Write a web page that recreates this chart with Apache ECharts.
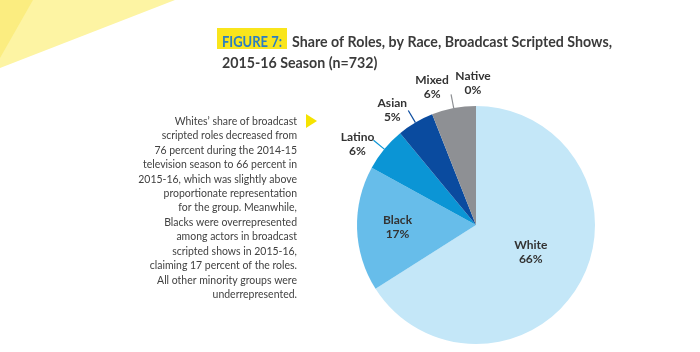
<!DOCTYPE html>
<html>
<head>
<meta charset="utf-8">
<script src="https://cdn.jsdelivr.net/npm/echarts@6/dist/echarts.min.js"></script>
<style>
html,body{margin:0;padding:0;background:#fff;}
#chart{width:700px;height:352px;}
</style>
</head>
<body>
<div id="chart"></div>
<script>
// ---- data ----
const categories = ['White', 'Black', 'Latino', 'Asian', 'Mixed', 'Native'];
const shares = [66, 17, 6, 5, 6, 0];
const sliceColors = ['#c4e7f8', '#67bdea', '#0b95d5', '#0a4b9f', '#8e9094', '#8e9094'];
const figureLabel = 'FIGURE 7:';
const titleLines = ['Share of Roles, by Race, Broadcast Scripted Shows,', '2015-16 Season (n=732)'];
const bodyLines = [
  'Whites\u2019 share of broadcast',
  'scripted roles decreased from',
  '76 percent during the 2014-15',
  'television season to 66 percent in',
  '2015-16, which was slightly above',
  'proportionate representation',
  'for the group. Meanwhile,',
  'Blacks were overrepresented',
  'among actors in broadcast',
  'scripted shows in 2015-16,',
  'claiming 17 percent of the roles.',
  'All other minority groups were',
  'underrepresented.'
];
const insideLabels = ['White', 'Black'];

// ---- helpers ----
const FONT = 'Lato';
const cv = document.createElement('canvas').getContext('2d');
function measure(text, size, weight) {
  cv.font = (weight || 'normal') + ' ' + size + 'px ' + FONT;
  return cv.measureText(text).width;
}

const titleSize = 15.5;
const titleScale = 320 / measure(titleLines[0], titleSize, 'bold');
const figScale = 60 / measure(figureLabel, titleSize, 'bold');
const bodySize = 11.5;
const bodyScale = 154 / measure(bodyLines[3], bodySize, 'normal');

// label nudges (style only)
const labelShift = {
  White: {dy: -3},
  Black: {dx: -16},
  Latino: {dx: 5, dy: 4},
  Asian: {dx: 5, dy: 0},
  Mixed: {dx: 2, dy: -7},
  Native: {dx: 0, dy: -9, align: 'center'}
};

const graphics = [];
// decorative yellow shapes
graphics.push({type: 'polygon', shape: {points: [[0,0],[175,0],[0,68]]}, style: {fill: '#fdf4a3'}, silent: true});
graphics.push({type: 'polygon', shape: {points: [[0,0],[33,0],[0,58]]}, style: {fill: '#fbed80'}, silent: true});
// title
graphics.push({type: 'rect', shape: {x: 217, y: 28, width: 70, height: 21}, style: {fill: '#f9e51c'}, silent: true});
graphics.push({type: 'text', x: 222, y: 42, scaleX: figScale, style: {text: figureLabel, fill: '#2b7ec2', font: 'bold ' + titleSize + 'px ' + FONT, textAlign: 'left', textVerticalAlign: 'middle'}, silent: true});
graphics.push({type: 'text', x: 292, y: 42, scaleX: titleScale, style: {text: titleLines[0], fill: '#3b3b3b', font: 'bold ' + titleSize + 'px ' + FONT, textAlign: 'left', textVerticalAlign: 'middle'}, silent: true});
graphics.push({type: 'text', x: 222, y: 63, scaleX: titleScale, style: {text: titleLines[1], fill: '#3b3b3b', font: 'bold ' + titleSize + 'px ' + FONT, textAlign: 'left', textVerticalAlign: 'middle'}, silent: true});
// body text
bodyLines.forEach(function (line, i) {
  graphics.push({type: 'text', x: 297, y: 121 + i * 14.45, scaleX: bodyScale, style: {text: line, fill: '#414141', font: 'normal ' + bodySize + 'px ' + FONT, textAlign: 'right', textVerticalAlign: 'middle'}, silent: true});
});
// pointer triangle
graphics.push({type: 'polygon', shape: {points: [[306,114],[317,121],[306,128]]}, style: {fill: '#f5e300'}, silent: true});

const pieData = categories.map(function (name, i) {
  const item = {name: name, value: shares[i], itemStyle: {color: sliceColors[i]}};
  if (insideLabels.indexOf(name) >= 0) {
    item.label = {position: 'inside'};
  }
  if (name === 'Native') {
    item.labelLine = {show: false};
  }
  return item;
});

const chart = echarts.init(document.getElementById('chart'), null, {renderer: 'canvas'});
chart.setOption({
  animation: false,
  backgroundColor: '#ffffff',
  graphic: graphics,
  series: [{
    type: 'pie',
    center: [476, 225],
    radius: 119,
    startAngle: 90,
    clockwise: true,
    avoidLabelOverlap: false,
    stillShowZeroSum: true,
    minShowLabelAngle: 0,
    data: pieData,
    itemStyle: {borderWidth: 0},
    emphasis: {disabled: true},
    label: {
      show: true,
      position: 'outside',
      formatter: function (p) { return '{a|' + p.name + '}\n{a|' + p.value + '%}'; },
      rich: {
        a: {fontFamily: FONT, fontWeight: 'bold', fontSize: 12, color: '#333333', lineHeight: 14, align: 'center', width: 36}
      },
      distanceToLabelLine: 3
    },
    labelLine: {show: true, length: 14, length2: 0, smooth: false, lineStyle: {width: 1.2}},
    labelLayout: function (params) {
      return labelShift[categories[params.dataIndex]] || {};
    }
  }]
});
</script>
</body>
</html>
